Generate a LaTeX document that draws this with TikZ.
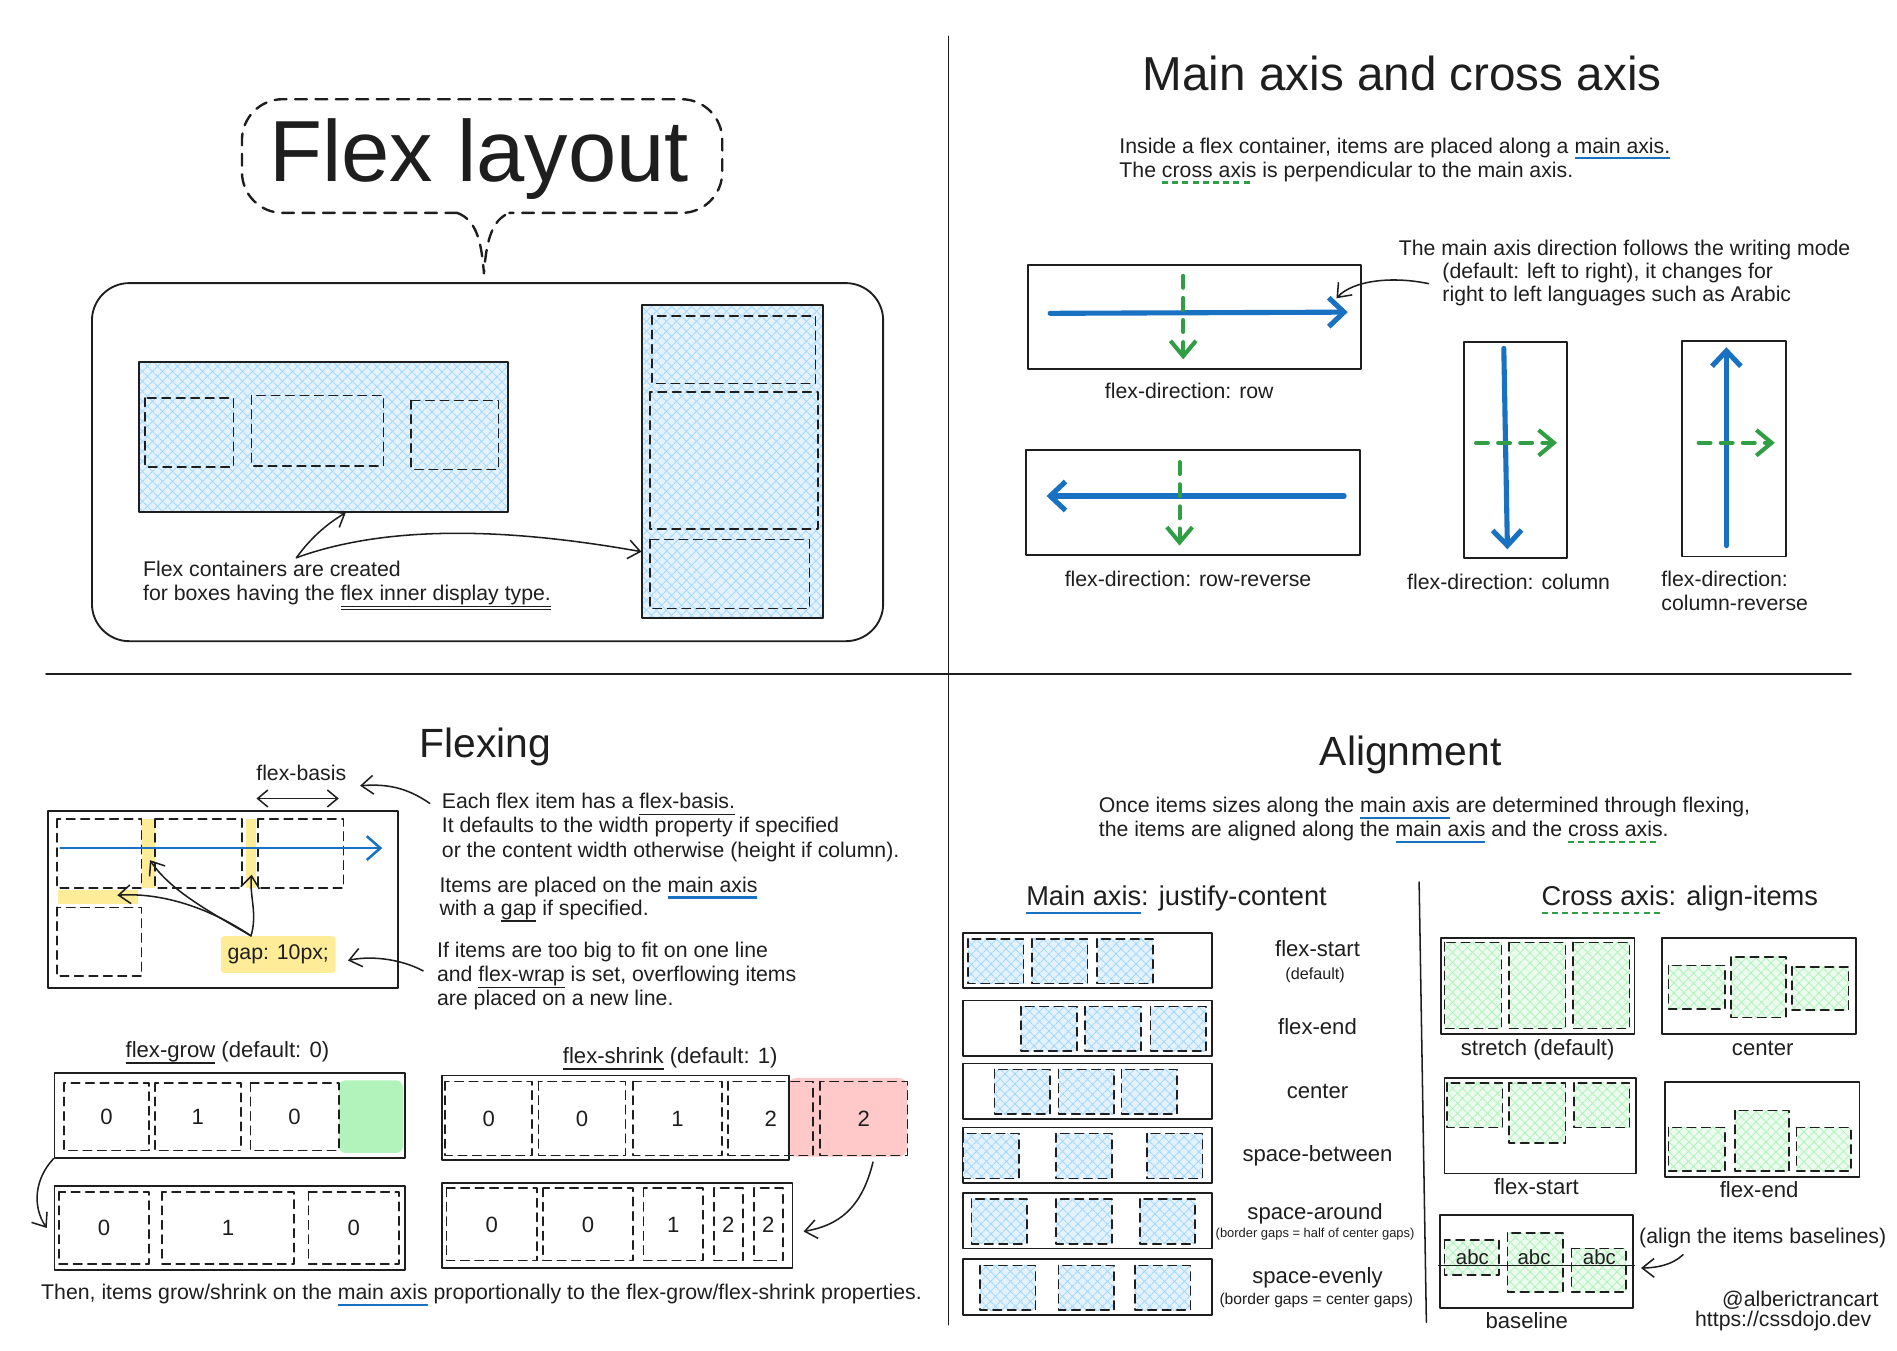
\documentclass[tikz,border=0pt]{standalone}
\usepackage{fontspec}
\setmainfont{Liberation Sans}
\usetikzlibrary{arrows.meta,patterns.meta,fit}

\definecolor{sketchink}{HTML}{1E1E1E}
\definecolor{axisblue}{HTML}{1971C2}
\definecolor{crossgreen}{HTML}{2F9E44}
\definecolor{hatchblue}{HTML}{A5D8FF}
\definecolor{paleblue}{HTML}{E3F2FD}
\definecolor{hatchgreen}{HTML}{B2F2BB}
\definecolor{palegreen}{HTML}{EBFBEE}
\definecolor{growgreen}{HTML}{B2F2BB}
\definecolor{shrinkred}{HTML}{FFC9C9}
\definecolor{gapyellow}{HTML}{FFEC99}

% underlines used in the notes
\newcommand{\blueline}[1]{\setbox0=\hbox{#1}\rlap{\color{axisblue}\rule[-0.3em]{\wd0}{1.3pt}}\box0\relax}
\newcommand{\greendash}[1]{\setbox0=\hbox{#1}\rlap{\color{crossgreen}\raisebox{-0.3em}{\hbox to \wd0{\leaders\hbox to 6pt{\rule{3.5pt}{1.3pt}\hss}\hfill}}}\box0\relax}
\newcommand{\inkline}[1]{\setbox0=\hbox{#1}\rlap{\rule[-0.3em]{\wd0}{0.8pt}}\box0\relax}
\newcommand{\inkdouble}[1]{\setbox0=\hbox{#1}\rlap{\rule[-0.28em]{\wd0}{0.6pt}}\rlap{\rule[-0.42em]{\wd0}{0.6pt}}\box0\relax}

\begin{document}
\begin{tikzpicture}[x=0.025cm, y=-0.025cm, line cap=round, line join=round,
  ink/.style={draw=sketchink, line width=1.1pt},
  item/.style={draw=sketchink, line width=1pt, dash pattern=on 5pt off 3.5pt},
  bluehatch/.style={preaction={fill=paleblue},
    preaction={pattern={Lines[angle=45, distance=4pt, line width=0.6pt]}, pattern color=hatchblue},
    preaction={pattern={Lines[angle=-45, distance=4pt, line width=0.6pt]}, pattern color=hatchblue}},
  greenhatch/.style={preaction={fill=palegreen},
    preaction={pattern={Lines[angle=45, distance=4pt, line width=0.6pt]}, pattern color=hatchgreen},
    preaction={pattern={Lines[angle=-45, distance=4pt, line width=0.6pt]}, pattern color=hatchgreen}},
  boxfit/.style={inner sep=0pt, fit={#1}},
  bubble/.style={draw=sketchink, line width=1.4pt, dash pattern=on 7pt off 5pt},
  mainarrow/.style={draw=axisblue, line width=3pt, -{Straight Barb[length=9pt, width=17pt]}},
  crossarrow/.style={draw=crossgreen, line width=2.4pt, dash pattern=on 7pt off 6pt, -{Straight Barb[length=9pt, width=15pt]}},
  note/.style={draw=sketchink, line width=0.9pt, -{Straight Barb[length=7pt, width=11pt]}},
  txt/.style={font=\fontsize{12.5}{15}\selectfont, text=sketchink, inner sep=0pt, text height=9pt, text depth=2.6pt},
  numtxt/.style={font=\fontsize{13}{15}\selectfont, text=sketchink, inner sep=0pt, text height=9.3pt, text depth=0pt},
  captxt/.style={font=\fontsize{13}{15}\selectfont, text=sketchink, inner sep=0pt, text height=9.4pt, text depth=2.7pt},
  smalltxt/.style={font=\fontsize{9.5}{11}\selectfont, text=sketchink, inner sep=0pt, text height=7pt, text depth=2pt},
  tinytxt/.style={font=\fontsize{7.6}{9}\selectfont, text=sketchink, inner sep=0pt, text height=5.6pt, text depth=1.6pt},
  eventxt/.style={font=\fontsize{9.2}{11}\selectfont, text=sketchink, inner sep=0pt, text height=6.8pt, text depth=2pt},
  headtxt/.style={font=\fontsize{16}{19}\selectfont, text=sketchink, inner sep=0pt, text height=11.6pt, text depth=3.4pt},
  titletxt/.style={font=\fontsize{24}{28}\selectfont, text=sketchink, inner sep=0pt, text height=17pt, text depth=5pt}]

  \useasboundingbox (0,0) rectangle (1568,1116);

  % quadrant dividers
  \draw[ink, line width=0.9pt] (784,30) -- (784,1095);
  \draw[ink, line width=0.9pt] (38,557) -- (1530,557);

  % --- Flex layout ---
  \node[text=sketchink, inner sep=0pt, font=\fontsize{51}{56}\selectfont, anchor=base] (flextitle) at (396,150) {Flex layout};
  \draw[bubble, rounded corners=24pt] (378,176) -- (200,176) -- (200,82) -- (597,82) -- (597,176) -- (421,176);
  \draw[bubble] (378,176) .. controls (394,182) and (398,200) .. (400,226) .. controls (402,200) and (406,182) .. (421,176);

  \node[ink, rounded corners=22pt, boxfit={(76,234) (730,530)}] (layoutbox) {};
  \node[ink, bluehatch, boxfit={(115,299) (420,423)}] (rowflex) {};
  \foreach \a/\b/\c/\d in {120/329/193/386, 208/327/317/385, 340/331/412/388}
    \draw[item] (\a,\b) rectangle (\c,\d);
  \node[ink, bluehatch, boxfit={(531,252) (680,511)}] (columnflex) {};
  \foreach \a/\b/\c/\d in {539/261/674/317, 537/324/676/437, 537/446/669/503}
    \draw[item] (\a,\b) rectangle (\c,\d);

  \node[txt, anchor=west] (createdtext) at (118,472) {Flex containers are created};
  \node[txt, anchor=west] (displaytext) at (118,492) {for boxes having the \inkdouble{flex inner display type.}};
  \coordinate (createdfork) at (245,461);
  \draw[note] (createdfork) .. controls (258,443) and (272,432) .. ([xshift=13pt]rowflex.south);
  \draw[note] (createdfork) .. controls (330,430) and (440,440) .. ([yshift=-53pt]columnflex.west);

  % --- Main axis and cross axis ---
  \node[titletxt, font=\fontsize{28}{32}\selectfont] (axistitle) at (1159,66) {Main axis and cross axis};
  \node[txt, anchor=west] (axistext1) at (925,122) {Inside a flex container, items are placed along a \blueline{main axis.}};
  \node[txt, anchor=west] (axistext2) at (925,142) {The \greendash{cross axis} is perpendicular to the main axis.};

  \node[ink, boxfit={(850,219) (1125,305)}] (rowdir) {};
  \draw[mainarrow] (868,259) -- (1114,258);
  \draw[crossarrow] (978,228) -- (978,297);
  \node[txt] (rowdirtext) at (983,325) {flex-direction: row};

  \node[txt, anchor=west] (modetext1) at (1156,207) {The main axis direction follows the writing mode};
  \node[txt, anchor=west] (modetext2) at (1192,226) {(default: left to right), it changes for};
  \node[txt, anchor=west] (modetext3) at (1192,245) {right to left languages such as Arabic};
  \draw[note] ([xshift=-8pt]modetext2.south west) .. controls (1150,228) and (1118,232) .. ([xshift=-15pt, yshift=11pt]rowdir.east);

  \node[ink, boxfit={(848,372) (1124,459)}] (rowrevdir) {};
  \draw[mainarrow] (1111,410) -- (865,410);
  \draw[crossarrow] (975,382) -- (975,451);
  \node[txt] (rowrevtext) at (982,480) {flex-direction: row-reverse};

  \node[ink, boxfit={(1210,283) (1295,461)}] (coldir) {};
  \draw[mainarrow] (1243,288) -- (1246,454);
  \draw[crossarrow] (1220,366) -- (1287,366);
  \node[txt] (coltext) at (1247,483) {flex-direction: column};

  \node[ink, boxfit={(1390,282) (1476,460)}] (colrevdir) {};
  \draw[mainarrow] (1427,451) -- (1427,287);
  \draw[crossarrow] (1404,366) -- (1467,366);
  \node[txt, anchor=west] (colrevtext1) at (1373,480) {flex-direction:};
  \node[txt, anchor=west] (colrevtext2) at (1373,500) {column-reverse};

  % --- Flexing ---
  \node[titletxt] (flexingtitle) at (401,618) {Flexing};
  \node[txt] (basistext) at (249,641) {flex-basis};
  \draw[draw=sketchink, line width=0.9pt, {Straight Barb[length=6pt, width=10pt]}-{Straight Barb[length=6pt, width=10pt]}] (212,660) -- (280,660);

  \node[ink, boxfit={(40,670) (329,817)}] (wrapbox) {};
  \fill[gapyellow] (117,677) rectangle (128,734);
  \fill[gapyellow] (203,677) rectangle (212,734);
  \fill[gapyellow] (48,736) rectangle (114,747);
  \foreach \a/\b/\c/\d in {47/677/117/734, 128/677/200/734, 213/677/284/734, 47/750/117/807}
    \draw[item] (\a,\b) rectangle (\c,\d);
  \draw[axisblue, line width=1.5pt, -{Straight Barb[length=8pt, width=14pt]}] (50,701) -- (316,701);

  \node[txt, fill=gapyellow, inner xsep=4pt, inner ysep=5pt, rounded corners=2pt] (gaplabel) at (230,789) {gap: 10px;};
  \coordinate (gapfork) at ([xshift=-16pt]gaplabel.north);
  \draw[note] (gapfork) .. controls (170,752) and (140,735) .. (124,711);
  \draw[note] (gapfork) .. controls (213,755) and (206,740) .. (208,723);
  \draw[note] (gapfork) .. controls (165,745) and (125,738) .. (97,740);

  \node[txt, anchor=west] (basisline1) at (365,664) {Each flex item has a \inkline{flex-basis.}};
  \node[txt, anchor=west] (basisline2) at (365,684) {It defaults to the width property if specified};
  \node[txt, anchor=west] (basisline3) at (365,704) {or the content width otherwise (height if column).};
  \node[txt, anchor=west] (gapline1) at (363,733) {Items are placed on the \blueline{main axis}};
  \node[txt, anchor=west] (gapline2) at (363,752) {with a \inkline{gap} if specified.};
  \node[txt, anchor=west] (wrapline1) at (361,787) {If items are too big to fit on one line};
  \node[txt, anchor=west] (wrapline2) at (361,807) {and \inkline{flex-wrap} is set, overflowing items};
  \node[txt, anchor=west] (wrapline3) at (361,827) {are placed on a new line.};
  \draw[note] ([xshift=-7pt]basisline1.west) .. controls (335,650) and (318,648) .. ([xshift=8pt, yshift=-6pt]basistext.east);
  \draw[note] ([xshift=-8pt, yshift=-5pt]wrapline1.south west) .. controls (330,792) and (305,790) .. ([xshift=7pt, yshift=-3.5pt]gaplabel.east);

  % flex-grow
  \node[captxt] (growtext) at (188,869) {\inkline{flex-grow} (default: 0)};
  \node[ink, boxfit={(45,887) (335,957)}] (growbefore) {};
  \node[fill=growgreen, rounded corners=4pt, boxfit={(280,893) (333,953)}] (growspace) {};
  \foreach \a/\b/\c/\d/\lab [count=\i] in {53/895/123/951/0, 128/895/199/951/1, 207/895/280/951/0} {
    \draw[item] (\a,\b) rectangle (\c,\d);
    \node[numtxt] (growa\i) at ({(\a+\c)/2},{(\b+\d)/2}) {\lab};
  }
  \node[ink, boxfit={(45,980) (335,1050)}] (growafter) {};
  \foreach \a/\b/\c/\d/\lab [count=\i] in {49/985/123/1045/0, 134/985/243/1045/1, 255/985/330/1045/0} {
    \draw[item] (\a,\b) rectangle (\c,\d);
    \node[numtxt] (growb\i) at ({(\a+\c)/2},{(\b+\d)/2}) {\lab};
  }
  \draw[note] (growbefore.south west) .. controls (28,975) and (27,998) .. ([xshift=-4pt]growafter.west);

  % flex-shrink
  \node[captxt] (shrinktext) at (554,874) {\inkline{flex-shrink} (default: 1)};
  \node[fill=shrinkred, rounded corners=5pt, boxfit={(651,891) (750,956)}] (overflow) {};
  \node[ink, boxfit={(365,889) (652,959)}] (shrinkbefore) {};
  \foreach \a/\b/\c/\d/\lab [count=\i] in {368/894/440/955/0, 445/894/517/955/0, 523/894/597/955/1, 602/894/672/955/2, 678/894/750/955/2} {
    \draw[item] (\a,\b) rectangle (\c,\d);
    \node[numtxt] (shrinka\i) at ({(\a+\c)/2},{(\b+\d)/2}) {\lab};
  }
  \node[ink, boxfit={(365,978) (655,1048)}] (shrinkafter) {};
  \foreach \a/\b/\c/\d/\lab [count=\i] in {369/982/444/1042/0, 449/982/523/1042/0, 532/982/581/1042/1, 590/982/614/1042/2, 623/982/647/1042/2} {
    \draw[item] (\a,\b) rectangle (\c,\d);
    \node[numtxt] (shrinkb\i) at ({(\a+\c)/2},{(\b+\d)/2}) {\lab};
  }
  \draw[note] ([xshift=15pt, yshift=-3pt]overflow.south) .. controls (712,1000) and (692,1013) .. ([xshift=6pt, yshift=-3.5pt]shrinkafter.east);

  \node[txt] (summarytext) at (398,1070) {Then, items grow/shrink on the \blueline{main axis} proportionally to the flex-grow/flex-shrink properties.};

  % --- Alignment ---
  \node[titletxt] (aligntitle) at (1166,624) {Alignment};
  \node[txt, anchor=west] (aligntext1) at (908,667) {Once items sizes along the \blueline{main axis} are determined through flexing,};
  \node[txt, anchor=west] (aligntext2) at (908,687) {the items are aligned along the \blueline{main axis} and the \greendash{cross axis}.};
  \node[headtxt, anchor=west] (justifyhead) at (848,743) {\blueline{Main axis}: justify-content};
  \node[headtxt, anchor=west] (alignhead) at (1274,743) {\greendash{Cross axis}: align-items};
  \draw[ink, line width=0.9pt] (1173,729) -- (1179,1093);

  % justify-content rows
  \foreach \t/\xa/\xb/\xc [count=\r] in {771/800/853/907, 827/844/897/951, 879/822/875/927, 932/796/873/948, 986/803/873/942, 1041/810/875/938} {
    \node[ink, boxfit={(796,\t) (1002,\t+46)}] (justify\r) {};
    \foreach \x in {\xa,\xb,\xc}
      \draw[item, bluehatch] (\x,\t+5) rectangle (\x+46,\t+42);
  }
  \node[captxt] (startcap) at (1089,786) {flex-start};
  \node[smalltxt] (defaultcap) at (1087,806) {(default)};
  \node[captxt] (endcap) at (1089,850) {flex-end};
  \node[captxt] (centercap) at (1089,903) {center};
  \node[captxt] (betweencap) at (1089,955) {space-between};
  \node[captxt] (aroundcap) at (1087,1003) {space-around};
  \node[tinytxt] (aroundnote) at (1087,1020) {(border gaps = half of center gaps)};
  \node[captxt] (evenlycap) at (1089,1056) {space-evenly};
  \node[eventxt] (evenlynote) at (1088,1075) {(border gaps = center gaps)};

  % align-items boxes
  \node[ink, boxfit={(1191,775) (1351,855)}] (stretchbox) {};
  \foreach \a/\b/\c/\d in {1194/779/1241/850, 1247/779/1294/850, 1300/779/1347/850}
    \draw[item, greenhatch] (\a,\b) rectangle (\c,\d);
  \node[captxt] (stretchcap) at (1271,868) {stretch (default)};

  \node[ink, boxfit={(1374,775) (1534,855)}] (centerbox) {};
  \foreach \a/\b/\c/\d in {1379/798/1426/834, 1431/791/1476/841, 1481/799/1528/835}
    \draw[item, greenhatch] (\a,\b) rectangle (\c,\d);
  \node[captxt] (centeritemcap) at (1457,868) {center};

  \node[ink, boxfit={(1194,891) (1352,970)}] (startbox) {};
  \foreach \a/\b/\c/\d in {1196/895/1242/932, 1247/895/1294/945, 1301/895/1347/932}
    \draw[item, greenhatch] (\a,\b) rectangle (\c,\d);
  \node[captxt] (startitemcap) at (1270,983) {flex-start};

  \node[ink, boxfit={(1376,894) (1537,973)}] (endbox) {};
  \foreach \a/\b/\c/\d in {1379/932/1426/968, 1434/918/1479/968, 1485/932/1530/968}
    \draw[item, greenhatch] (\a,\b) rectangle (\c,\d);
  \node[captxt] (enditemcap) at (1454,985) {flex-end};

  \node[ink, boxfit={(1190,1004) (1350,1081)}] (baselinebox) {};
  \foreach \a/\b/\c/\d/\m [count=\i] in {1194/1025/1239/1054/1217, 1246/1019/1292/1068/1268, 1299/1032/1344/1068/1322} {
    \draw[item, greenhatch] (\a,\b) rectangle (\c,\d);
    \node[font=\fontsize{12}{14}\selectfont, text=sketchink, inner sep=0pt, anchor=base] (abc\i) at (\m,1045) {abc};
  }
  \draw[ink, line width=0.9pt] (baselinebox.west |- 0,1046) -- (baselinebox.east |- 0,1046);
  \node[captxt] (baselinecap) at (1262,1093) {baseline};
  \node[txt] (baselinenote) at (1457,1023) {(align the items baselines)};
  \draw[note] ([xshift=26pt, yshift=-4pt]baselinenote.south west) .. controls (1382,1046) and (1368,1048) .. ([xshift=4pt, yshift=-4pt]baselinebox.east);

  \node[txt, anchor=east] (authortext) at (1553,1075) {@alberictrancart};
  \node[txt, anchor=east] (sitetext) at (1547,1092) {https://cssdojo.dev};

\end{tikzpicture}
\end{document}
